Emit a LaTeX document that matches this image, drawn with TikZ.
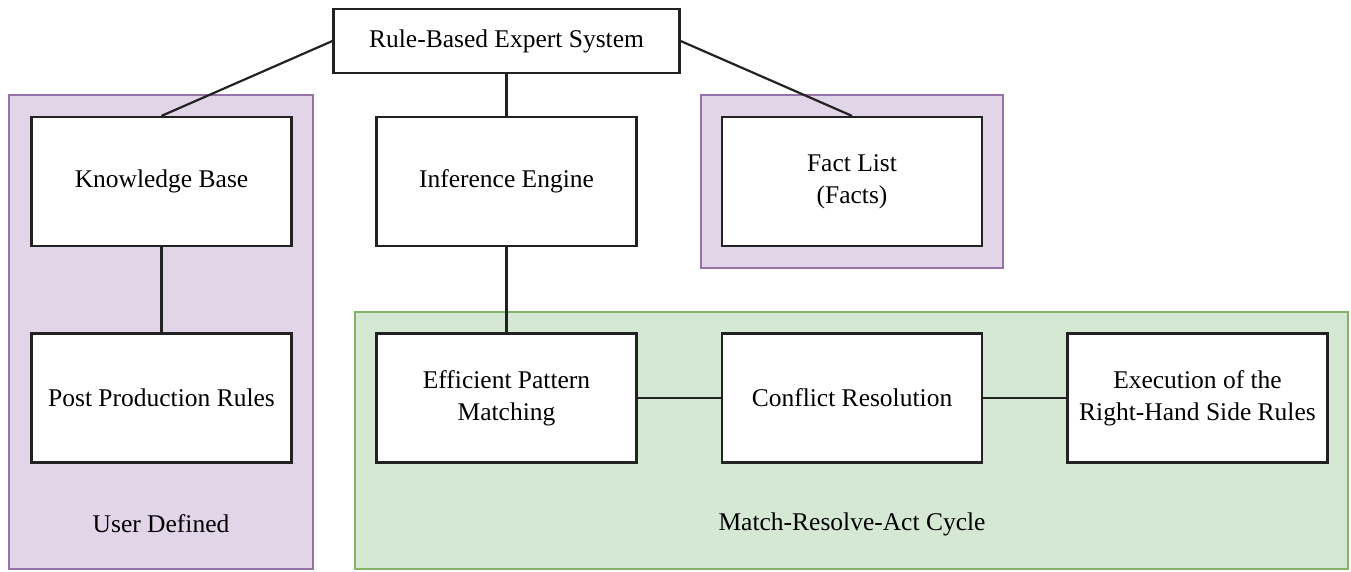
\documentclass[tikz,border=0pt]{standalone}
\usepackage{fontspec}
\setmainfont{Liberation Serif}
\usepackage{tikz}
\usetikzlibrary{positioning}
\definecolor{userfill}{HTML}{E1D5E7}
\definecolor{userline}{HTML}{9673A6}
\definecolor{cyclefill}{HTML}{D5E8D4}
\definecolor{cycleline}{HTML}{82B366}
\definecolor{boxline}{HTML}{222222}

\begin{document}
\begin{tikzpicture}[x=1pt, y=-1pt,
    box/.style={draw=boxline, line width=2.2pt, fill=white, align=center,
      minimum width=260pt, minimum height=129pt, inner sep=0pt,
      font=\fontsize{25.5}{32}\selectfont},
    link/.style={draw=boxline, line width=2.2pt},
    grouplabel/.style={font=\fontsize{25.5}{32}\selectfont}]
  \useasboundingbox (0,0) rectangle (1351,571);

  % shaded groups
  \draw[userline, fill=userfill, line width=1.5pt] (9,95) rectangle (313,569);
  \draw[userline, fill=userfill, line width=1.5pt] (701,95) rectangle (1003,268);
  \draw[cycleline, fill=cyclefill, line width=1.5pt] (355,312) rectangle (1348,569);

  % top of the tree
  \node[box, minimum width=346pt, minimum height=64pt] (rbes) at (506.5,41)
    {Rule-Based Expert System};

  % second row
  \node[box] (kb)    at (161.5,181.5) {Knowledge Base};
  \node[box] (ie)    at (506.5,181.5) {Inference Engine};
  \node[box] (facts) at (852,181.5)   {Fact List\\(Facts)};

  % third row
  \node[box] (ppr)  at (161.5,398)  {Post Production Rules};
  \node[box] (epm)  at (506.5,398)  {Efficient Pattern\\Matching};
  \node[box] (cr)   at (852,398)    {Conflict Resolution};
  \node[box] (exec) at (1197.5,398) {Execution of the\\Right-Hand Side Rules};

  % group labels
  \node[grouplabel] (ud)  at (161,524) {User Defined};
  \node[grouplabel] (mra) at (852,524) {Match-Resolve-Act Cycle};

  % connectors
  \draw[link] (rbes.west) -- (kb.north);
  \draw[link] (rbes.south) -- (ie.north);
  \draw[link] (rbes.east) -- (facts.north);
  \draw[link] (kb.south) -- (ppr.north);
  \draw[link] (ie.south) -- (epm.north);
  \draw[link] (epm.east) -- (cr.west);
  \draw[link] (cr.east) -- (exec.west);
\end{tikzpicture}
\end{document}
